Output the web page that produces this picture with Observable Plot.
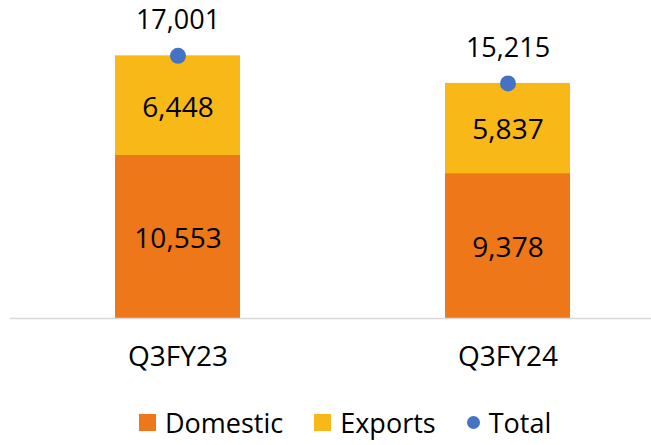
<!DOCTYPE html>
<html><head><meta charset="utf-8">
<script src="https://cdn.jsdelivr.net/npm/d3@7"></script>
<script src="https://cdn.jsdelivr.net/npm/@observablehq/plot@0.6"></script>
<style>
body{margin:0;background:#fff;font-family:"Open Sans",sans-serif;}
#legend{display:flex;align-items:center;height:45px;padding-left:139px;font-size:27px;color:#000;}
#legend .sw{display:inline-block;width:17px;height:17px;margin-right:9px;}
#legend .item{display:flex;align-items:center;margin-right:31px;}
#legend .dot{border-radius:50%;width:13px;height:13px;}
</style></head>
<body><div id="chart"></div><div id="legend"></div>
<script>
const categories = ["Q3FY23", "Q3FY24"];
const domestic = [10553, 9378];
const exportsV = [6448, 5837];
const totals = [17001, 15215];
const seriesNames = ["Domestic", "Exports", "Total"];
const colors = ["#EE7719", "#F7B818", "#4472C4"];

const rows = [];
categories.forEach((c, i) => {
  rows.push({cat: c, series: "Domestic", value: domestic[i], base: 0});
  rows.push({cat: c, series: "Exports", value: exportsV[i], base: domestic[i]});
});
const tot = categories.map((c, i) => ({cat: c, value: totals[i]}));
const fmt = d3.format(",");

const plot = Plot.plot({
  width: 651, height: 400,
  marginTop: 9, marginBottom: 82, marginLeft: 10, marginRight: 0,
  style: {fontFamily: "Open Sans, sans-serif", background: "#fff"},
  x: {domain: categories, range: [12.5, 672.5], paddingInner: 0.621, paddingOuter: 0.3105, label: null},
  y: {domain: [0, 20000], axis: null},
  color: {domain: seriesNames, range: colors},
  marks: [
    Plot.barY(rows, {x: "cat", y1: "base", y2: d => d.base + d.value, fill: "series"}),
    Plot.ruleY([0], {stroke: "#D9D9D9", strokeWidth: 1.5}),
    Plot.text(rows, {x: "cat", y: d => d.base + d.value / 2, text: d => fmt(d.value), fontSize: 28, fill: "#000", dy: 2}),
    Plot.dot(tot, {x: "cat", y: "value", r: 8, fill: colors[2]}),
    Plot.text(tot, {x: "cat", y: "value", text: d => fmt(d.value), fontSize: 27, fill: "#000", dy: -35}),
    Plot.axisX({tickSize: 0, tickPadding: 28, fontSize: 28, color: "#000", label: null})
  ]
});
document.getElementById("chart").appendChild(plot);

const lg = document.getElementById("legend");
seriesNames.forEach((s, i) => {
  const it = document.createElement("span");
  it.className = "item";
  const sw = document.createElement("span");
  sw.className = "sw" + (s === "Total" ? " dot" : "");
  sw.style.background = colors[i];
  it.appendChild(sw);
  it.appendChild(document.createTextNode(s));
  lg.appendChild(it);
});
</script></body></html>
